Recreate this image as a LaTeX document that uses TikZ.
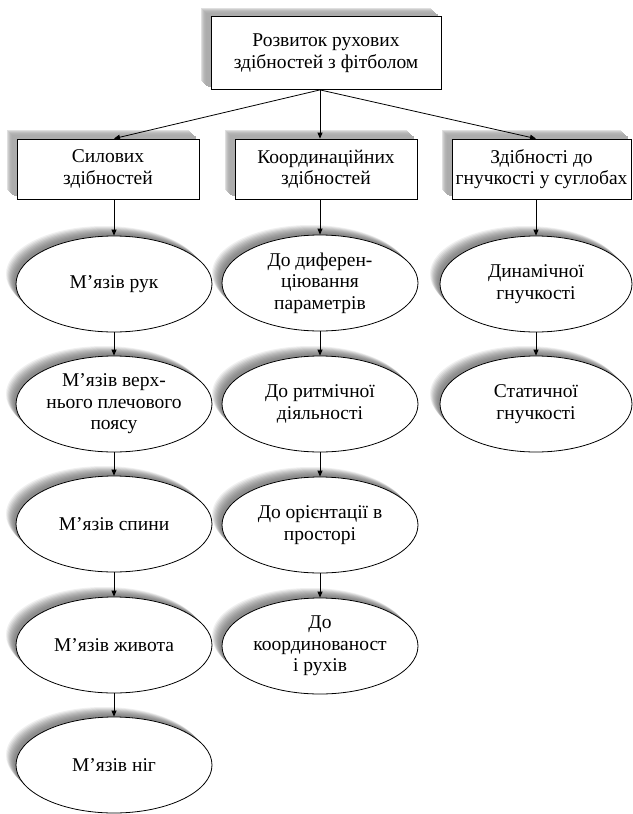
\documentclass[tikz,border=0pt]{standalone}
\usepackage{fontspec}
\setmainfont{Liberation Serif}
\usetikzlibrary{shapes.geometric,shadows,arrows.meta}
\begin{document}
\begin{tikzpicture}[x=1pt,y=-1pt,
  every node/.style={font=\fontsize{19.5}{21.5}\selectfont, align=center, inner sep=1pt},
  bshadow/.style={
    general shadow={fill=gray!25,shadow xshift=-10pt,shadow yshift=9pt},
    general shadow={fill=gray!40,shadow xshift=-9pt,shadow yshift=8pt},
    general shadow={fill=gray!50,shadow xshift=-8pt,shadow yshift=7pt},
    general shadow={fill=gray!58,shadow xshift=-7pt,shadow yshift=6pt},
    general shadow={fill=gray!62,shadow xshift=-6pt,shadow yshift=5pt},
    general shadow={fill=gray!65,shadow xshift=-5pt,shadow yshift=4pt},
    general shadow={fill=gray!65,shadow xshift=-3pt,shadow yshift=3pt}},
  eshadow/.style={
    general shadow={fill=gray!12,shadow xshift=-10pt,shadow yshift=10pt},
    general shadow={fill=gray!25,shadow xshift=-9pt,shadow yshift=9pt},
    general shadow={fill=gray!38,shadow xshift=-8pt,shadow yshift=8pt},
    general shadow={fill=gray!50,shadow xshift=-7pt,shadow yshift=7pt},
    general shadow={fill=gray!60,shadow xshift=-6pt,shadow yshift=6pt},
    general shadow={fill=gray!70,shadow xshift=-5pt,shadow yshift=5pt},
    general shadow={fill=gray!78,shadow xshift=-4pt,shadow yshift=4pt},
    general shadow={fill=gray!85,shadow xshift=-3pt,shadow yshift=3pt},
    general shadow={fill=gray!90,shadow xshift=-2pt,shadow yshift=2pt}},
  tbox/.style={rectangle, draw=black, line width=0.8pt, fill=white, bshadow,
    minimum width=182pt, minimum height=60pt},
  ell/.style={ellipse, draw=black, line width=0.8pt, fill=white, eshadow,
    minimum width=196pt, minimum height=96pt, inner sep=0pt},
  arr/.style={draw=black, line width=0.8pt, -{Triangle[length=6pt,width=5pt]}}
]
\useasboundingbox (0,0) rectangle (632,814);

\node[tbox, minimum width=230pt, minimum height=73pt] (top) at (326,53) {Розвиток рухових\\здібностей з фітболом};

\node[tbox] (b1) at (108,169) {Силових\\здібностей};
\node[tbox] (b2) at (326,169) {Координаційних\\здібностей};
\node[tbox, minimum width=179pt] (b3) at (541.5,169) {Здібності до\\гнучкості у суглобах};

\node[ell] (e11) at (114,284) {М’язів рук};
\node[ell] (e12) at (114,404) {М’язів верх-\\нього плечового\\поясу};
\node[ell] (e13) at (114,524) {М’язів спини};
\node[ell] (e14) at (114,645) {М’язів живота};
\node[ell] (e15) at (114,765) {М’язів ніг};

\node[ell] (e21) at (320,283) {До диферен-\\ціювання\\параметрів};
\node[ell] (e22) at (320,404) {До ритмічної\\діяльності};
\node[ell] (e23) at (320,525) {До орієнтації в\\просторі};
\node[ell] (e24) at (320,646) {До\\координованост\\і рухів};

\node[ell, minimum width=192pt] (e31) at (536,284) {Динамічної\\гнучкості};
\node[ell, minimum width=192pt] (e32) at (536,404) {Статичної\\гнучкості};

\coordinate (o) at (top.south -| e21.north);
\draw[arr] (o) -- (b1.north -| e11.north);
\draw[arr] (o) -- (b2.north -| e21.north);
\draw[arr] (o) -- (b3.north -| e31.north);

\draw[arr] (b1.south -| e11.north) -- (e11.north);
\draw[arr] (e11) -- (e12);
\draw[arr] (e12) -- (e13);
\draw[arr] (e13) -- (e14);
\draw[arr] (e14) -- (e15);

\draw[arr] (b2.south -| e21.north) -- (e21.north);
\draw[arr] (e21) -- (e22);
\draw[arr] (e22) -- (e23);
\draw[arr] (e23) -- (e24);

\draw[arr] (b3.south -| e31.north) -- (e31.north);
\draw[arr] (e31) -- (e32);
\end{tikzpicture}
\end{document}
